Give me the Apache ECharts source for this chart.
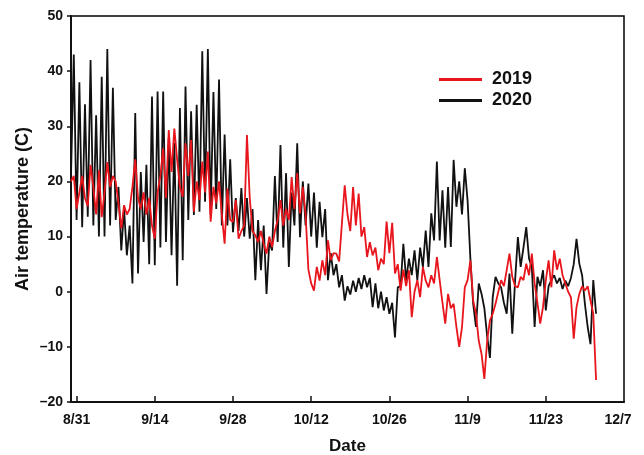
<!DOCTYPE html>
<html>
<head>
<meta charset="utf-8">
<script src="https://cdn.jsdelivr.net/npm/echarts@6/dist/echarts.min.js"></script>
<style>html,body{margin:0;padding:0;background:#fff}#c{width:644px;height:455px}</style>
</head>
<body>
<div id="c"></div>
<script>
// Sampling: first sample day (0 = 8/31), step in days
const startDay = -1;
const stepDay = 0.5;
// x tick positions (days since 8/31) and labels
const tickDays = [0, 14, 28, 42, 56, 70, 84, 98];
const tickLabels = ['8/31', '9/14', '9/28', '10/12', '10/26', '11/9', '11/23', '12/7'];
const seriesNames = ['2019', '2020'];
// 2019 air temperature (C), two samples per day
const temp2019 = [
  20, 21,  15, 18,  21, 17,  15.5, 23,  19, 14,  22, 13.5,  18, 23.5,  19, 21,  20, 16,
  11.5, 15.7,  14, 15,  19, 24,  17, 15,  18, 14,  17, 12,  9.6, 18,  21, 26,  17, 29.3,
  21.7, 29.6,  24, 19,  17.2, 26.9,  21, 27.5,  14.5, 20,  16.6, 23.6,  18, 25.4,  12.7, 19,
  16, 20,  14, 8.7,  18.7, 13,  12.7, 16.6,  9.6, 11,  12, 28.4,  17, 11,  10.2, 9,
  11, 8.7,  6.9, 10,  8.1, 11,  13, 16.6,  12, 15,  13, 20.8,  15, 21.5,  14.2, 19,
  14, 4,  1.5, 0.2,  4.5, 2,  5.7, 3,  9.3, 5.7,  7, 6.9,  5.5, 12.4,  19.3, 14,
  11, 19,  12, 17.8,  10, 11.7,  6.3, 9,  6.6, 8,  3.9, 6,  5, 12.7,  7, 12.5,
  3.3, 5,  0.2, 4,  1, 3.9,  -4.6, 0,  2.1, -1,  4.5, 2,  0.8, 3,  1.5, 6.3,
  2.1, -2,  -5.8, -0.4,  -3, -2.2,  -6.4, -10,  -6.4, 0.8,  2.1, 5.7,  -1.6, -4,
  -8.9, -11.3,  -15.8, -8.9,  -5.2, -4,  -2.2, 0,  2.1, 1,  3.9, 6.9,  2.7, 1,
  0.8, 2.7,  2.1, 5.1,  3, 6.9,  1.5, -2,  -5.8, -2.8,  2, 5.7,  0.8, 7.5,  4, 6,
  3, 1.5,  0, -1,  -8.5, -2.8,  -0.4, 1,  0.2, 1,  -1.6, -4,  -16
];
// 2020 air temperature (C), two samples per day
const temp2020 = [
  21, 43,  13, 38,  11.7, 34,  13.6, 42,  12, 32,  10, 39,  10, 44,  12, 37,  13, 19,
  7.5, 15,  6.6, 12,  1.5, 32.4,  3.3, 21.7,  9, 23,  5, 35.4,  4.8, 36.3,  8, 36.3,
  9, 28,  6.6, 27,  1.1, 33.3,  5.7, 37.2,  13, 32.7,  13.9, 33.9,  14.5, 43.6,  16.3, 44,
  14, 36.2,  15, 38.5,  12, 28.5,  12, 24,  10.8, 17,  11, 18.8,  10, 17,  9.6, 15,
  2.1, 13,  3.9, 12,  -0.4, 9,  7.5, 21,  9, 26.6,  8, 21.5,  4.5, 18,  12, 26.9,
  9.9, 20,  12, 19.6,  10, 18,  8, 16.3,  9.9, 15,  2.1, 7,  3, 5,  0.8, 3,
  -1.6, 1,  -0.5, 2,  0, 2.5,  0.5, 3,  0.8, 2.5,  -2.8, 1.5,  -3, 0,  -3.4, -1,
  -4, -2,  -8.3, 0.8,  1, 8.7,  2.1, 6,  3, 7.5,  2.1, 8,  4.5, 11.1,  4.5, 14.2,
  9.3, 23.6,  9.3, 18.4,  8, 19,  8.1, 23.9,  15.4, 20,  14, 22.4,  16.5, 6,
  -2.2, -6.4,  1.5, -0.4,  -3, -8,  -12, -1,  2.7, 1.5,  0.8, -2,  -4, 3.3,
  -7.6, 2,  9.9, 4.5,  8, 11.7,  6, 4.5,  -6.4, 2.7,  1, 3.9,  -3.4, 1,  2.1, 3,
  1.5, 2.5,  0.5, 2,  1, 2.5,  5, 9.6,  5.1, 3,  -2.2, -6.4,  -9.5, 2.1,  -4
];

function toPairs(vals) {
  return vals.map((v, i) => [startDay + i * stepDay, v]);
}

const font = 'Liberation Sans, Arial, sans-serif';
const chart = echarts.init(document.getElementById('c'), null, {renderer: 'canvas'});
chart.setOption({
  animation: false,
  backgroundColor: '#fff',
  grid: {
    left: 71, right: 20, top: 16, bottom: 53,
    outerBoundsMode: 'none', containLabel: false,
    show: true, borderColor: '#000', borderWidth: 1.5, backgroundColor: 'transparent'
  },
  legend: {
    orient: 'vertical',
    left: 439, top: 69, padding: 0,
    itemWidth: 43, itemHeight: 3, itemGap: 0,
    icon: 'rect',
    data: [
      {name: seriesNames[0], itemStyle: {color: '#e8151c'}},
      {name: seriesNames[1], itemStyle: {color: '#111'}}
    ],
    textStyle: {fontFamily: font, fontWeight: 'bold', fontSize: 18, color: '#111', lineHeight: 21, padding: [0, 0, 0, 5]}
  },
  xAxis: {
    type: 'value',
    min: -1, max: 98,
    name: 'Date', nameLocation: 'middle', nameGap: 36,
    nameTextStyle: {fontFamily: font, fontWeight: 'bold', fontSize: 17, color: '#111'},
    axisLine: {show: true, onZero: false, lineStyle: {color: '#111', width: 2}},
    axisTick: {show: true, inside: true, length: 6, lineStyle: {color: '#111', width: 1.5},
      customValues: tickDays.slice(0, 7)},
    axisLabel: {fontFamily: font, fontWeight: 'bold', fontSize: 14, color: '#111', margin: 11,
      customValues: tickDays,
      formatter: v => {
        const i = tickDays.indexOf(Math.round(v));
        if (i < 0) return '';
        return i === tickDays.length - 1 ? '{last|' + tickLabels[i] + '}' : tickLabels[i];
      },
      rich: {last: {fontFamily: font, fontWeight: 'bold', fontSize: 14, color: '#111', padding: [0, 12, 0, 0]}}},
    splitLine: {show: false}
  },
  yAxis: {
    type: 'value',
    min: -20, max: 50, interval: 10,
    name: 'Air temperature (C)', nameLocation: 'middle', nameGap: 39, nameRotate: 90,
    nameMoveOverlap: false,
    nameTextStyle: {fontFamily: font, fontWeight: 'bold', fontSize: 18, color: '#111'},
    axisLine: {show: true, onZero: false, lineStyle: {color: '#111', width: 2}},
    axisTick: {show: true, inside: false, length: 4, lineStyle: {color: '#111', width: 1.5}},
    axisLabel: {fontFamily: font, fontWeight: 'bold', fontSize: 14, color: '#111', margin: 8,
      formatter: v => (v < 0 ? '\u2013' + Math.abs(v) : String(v))},
    splitLine: {show: false}
  },
  series: [
    {
      name: seriesNames[1], type: 'line', data: toPairs(temp2020),
      showSymbol: false, symbol: 'none', z: 2,
      lineStyle: {color: '#111', width: 1.8}, itemStyle: {color: '#111'}
    },
    {
      name: seriesNames[0], type: 'line', data: toPairs(temp2019),
      showSymbol: false, symbol: 'none', z: 3,
      lineStyle: {color: '#e8151c', width: 1.8}, itemStyle: {color: '#e8151c'}
    }
  ]
});
</script>
</body>
</html>
